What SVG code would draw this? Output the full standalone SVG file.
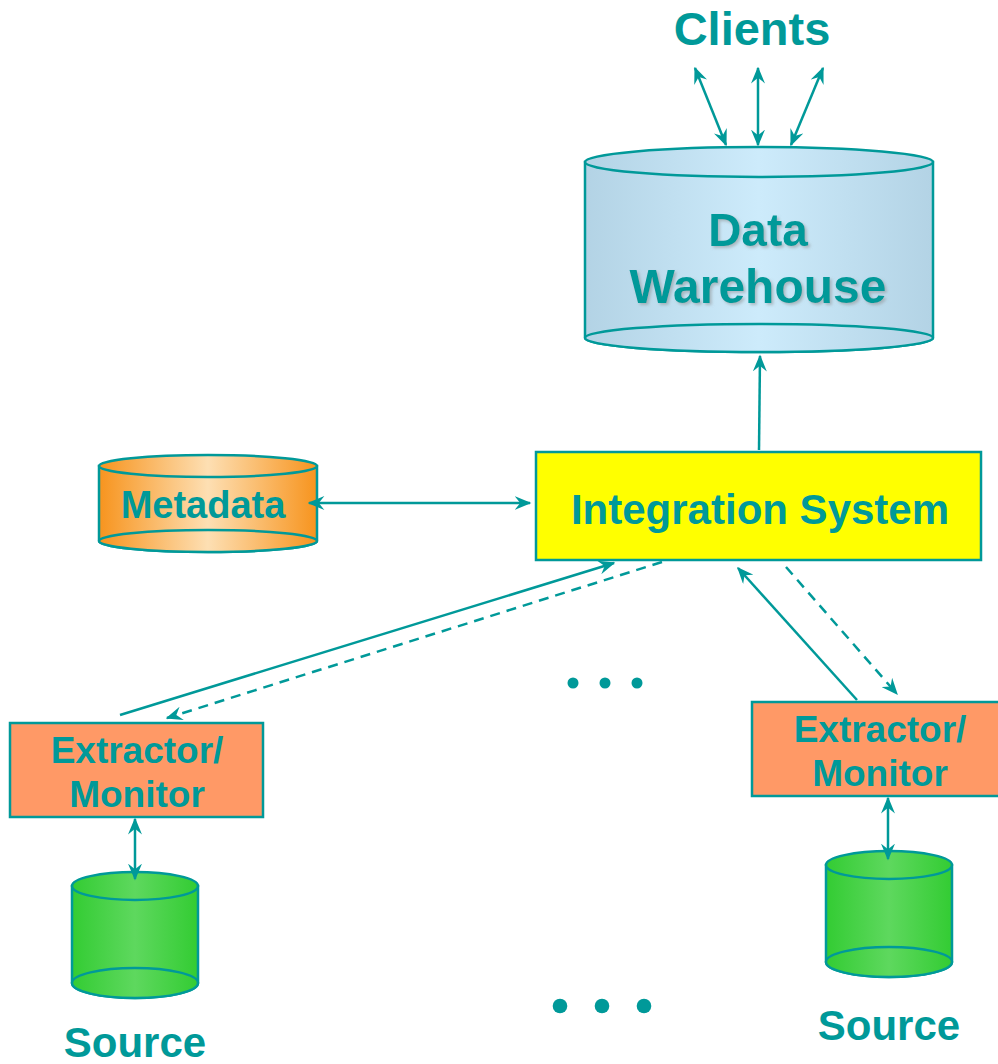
<svg xmlns="http://www.w3.org/2000/svg" width="998" height="1064" viewBox="0 0 998 1064">
<style>
.t{font-family:"Liberation Sans",Arial,sans-serif;font-weight:bold;fill:#009999;text-anchor:middle}
.ln{stroke:#009999;stroke-width:2.5;fill:none}
.sh{stroke:#009999;stroke-width:2.5}
.dash{stroke-dasharray:10 7}
</style>
<defs>
<marker id="ah" viewBox="0 0 12 10" refX="11" refY="5" markerWidth="17" markerHeight="14" markerUnits="userSpaceOnUse" orient="auto-start-reverse">
<path d="M0,0 L12,5 L0,10 L4,5 z" fill="#009999"/>
</marker>
<linearGradient id="gBlue" x1="0" x2="1" y1="0" y2="0">
<stop offset="0" stop-color="#B3D3E5"/><stop offset="0.5" stop-color="#CDEBFB"/><stop offset="1" stop-color="#B3D3E5"/>
</linearGradient>
<linearGradient id="gOrange" x1="0" x2="1" y1="0" y2="0">
<stop offset="0" stop-color="#F7941E"/><stop offset="0.5" stop-color="#FDDFB3"/><stop offset="1" stop-color="#F7941E"/>
</linearGradient>
<linearGradient id="gGreen" x1="0" x2="1" y1="0" y2="0">
<stop offset="0" stop-color="#33CC33"/><stop offset="0.5" stop-color="#5ED85E"/><stop offset="1" stop-color="#33CC33"/>
</linearGradient>
<filter id="tshadow" x="-10%" y="-20%" width="130%" height="150%">
<feDropShadow dx="2" dy="2" stdDeviation="1.5" flood-color="#888888" flood-opacity="0.5"/>
</filter>
</defs>

<g id="clients">
<text class="t" x="752" y="45" font-size="47">Clients</text>
</g>

<g id="data-warehouse">
<path d="M585,162 L585,338 A174,14 0 0 0 933,338 L933,162 Z" fill="url(#gBlue)" class="sh"/>
<ellipse cx="759" cy="338" rx="174" ry="14" fill="url(#gBlue)" class="sh"/>
<ellipse cx="759" cy="162" rx="174" ry="15" fill="url(#gBlue)" class="sh"/>
<g filter="url(#tshadow)">
<text class="t" x="758" y="246" font-size="46">Data</text>
<text class="t" x="758" y="303" font-size="48">Warehouse</text>
</g>
</g>

<g id="metadata">
<path d="M99,466 L99,541 A109,11 0 0 0 317,541 L317,466 Z" fill="url(#gOrange)" class="sh"/>
<ellipse cx="208" cy="541" rx="109" ry="11" fill="url(#gOrange)" class="sh"/>
<ellipse cx="208" cy="466" rx="109" ry="11" fill="url(#gOrange)" class="sh"/>
<text class="t" x="203" y="518" font-size="38">Metadata</text>
</g>

<g id="integration-system">
<rect x="536" y="452" width="445" height="108" fill="#FFFF00" class="sh"/>
<text class="t" x="760" y="524" font-size="42">Integration System</text>
</g>

<g id="extractor-left">
<rect x="10" y="723" width="253" height="94" fill="#FF9966" class="sh"/>
<text class="t" x="137" y="763" font-size="37">Extractor/</text>
<text class="t" x="137" y="807" font-size="37">Monitor</text>
</g>

<g id="extractor-right">
<rect x="752" y="702" width="250" height="94" fill="#FF9966" class="sh"/>
<text class="t" x="880" y="742" font-size="37">Extractor/</text>
<text class="t" x="880" y="786" font-size="37">Monitor</text>
</g>

<g id="source-left">
<path d="M72,886 L72,983 A63,15 0 0 0 198,983 L198,886 Z" fill="url(#gGreen)" class="sh"/>
<ellipse cx="135" cy="983" rx="63" ry="15" fill="url(#gGreen)" class="sh"/>
<ellipse cx="135" cy="886" rx="63" ry="14" fill="url(#gGreen)" class="sh"/>
<text class="t" x="135" y="1057" font-size="42">Source</text>
</g>

<g id="source-right">
<path d="M826,865 L826,962 A63,15 0 0 0 952,962 L952,865 Z" fill="url(#gGreen)" class="sh"/>
<ellipse cx="889" cy="962" rx="63" ry="15" fill="url(#gGreen)" class="sh"/>
<ellipse cx="889" cy="865" rx="63" ry="14" fill="url(#gGreen)" class="sh"/>
<text class="t" x="889" y="1040" font-size="42">Source</text>
</g>

<g id="ellipsis-top" fill="#009999">
<circle cx="573" cy="683" r="5.5"/><circle cx="605" cy="683" r="5.5"/><circle cx="637" cy="683" r="5.5"/>
</g>
<g id="ellipsis-bottom" fill="#009999">
<circle cx="560" cy="1006" r="7.3"/><circle cx="602" cy="1006" r="7.3"/><circle cx="644" cy="1006" r="7.3"/>
</g>

<g id="connectors">
<line class="ln" x1="726" y1="145" x2="695" y2="68" marker-start="url(#ah)" marker-end="url(#ah)"/>
<line class="ln" x1="758" y1="145" x2="758" y2="68" marker-start="url(#ah)" marker-end="url(#ah)"/>
<line class="ln" x1="791" y1="145" x2="823" y2="68" marker-start="url(#ah)" marker-end="url(#ah)"/>
<line class="ln" x1="759" y1="450" x2="760" y2="356" marker-end="url(#ah)"/>
<line class="ln" x1="309" y1="503" x2="530" y2="503" marker-start="url(#ah)" marker-end="url(#ah)"/>
<line class="ln" x1="120" y1="715" x2="614" y2="563" marker-end="url(#ah)"/>
<line class="ln dash" x1="662" y1="562" x2="167" y2="718" marker-end="url(#ah)"/>
<line class="ln" x1="857" y1="700" x2="738" y2="568" marker-end="url(#ah)"/>
<line class="ln dash" x1="786" y1="567" x2="897" y2="694" marker-end="url(#ah)"/>
<line class="ln" x1="135" y1="819" x2="135" y2="879" marker-start="url(#ah)" marker-end="url(#ah)"/>
<line class="ln" x1="888" y1="798" x2="888" y2="859" marker-start="url(#ah)" marker-end="url(#ah)"/>
</g>
</svg>
